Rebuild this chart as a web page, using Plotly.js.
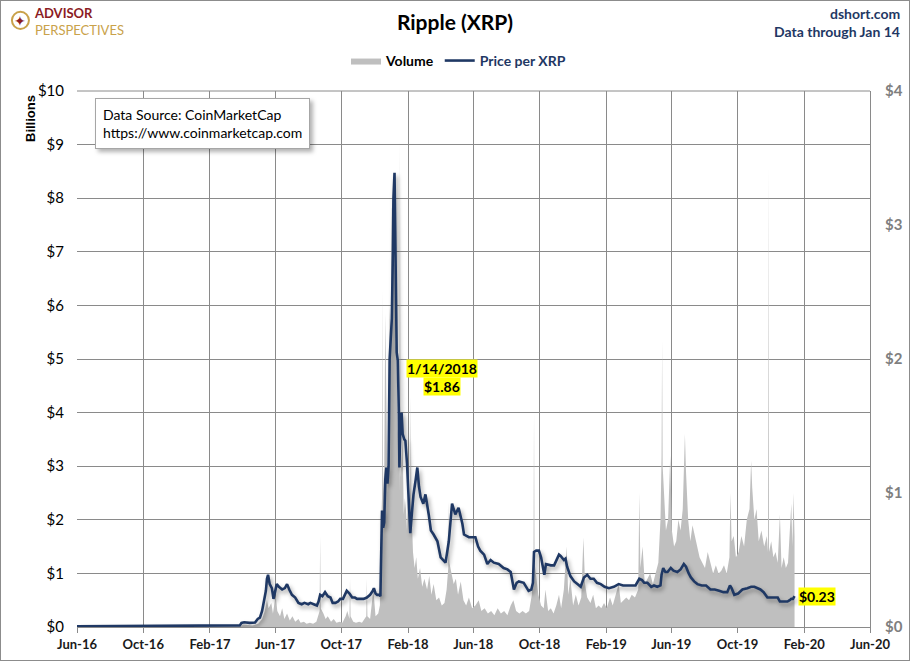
<!DOCTYPE html>
<html>
<head>
<meta charset="utf-8">
<script src="https://cdn.plot.ly/plotly-3.0.1.min.js"></script>
<style>
html,body{margin:0;padding:0;background:#fff;}
#wrap{width:910px;height:661px;box-sizing:border-box;border:1px solid #8c8c8c;overflow:hidden;}
#chart{width:908px;height:659px;}
</style>
</head>
<body>
<div id="wrap"><div id="chart"></div></div>
<script>
// ---- Data ----
const priceDates = ["2016-06-01","2016-07-01","2016-08-01","2016-09-01","2016-10-01","2016-11-01","2016-12-01","2017-01-01","2017-02-01","2017-03-01","2017-03-20","2017-03-28","2017-03-31","2017-04-05","2017-04-15","2017-04-25","2017-04-30","2017-05-04","2017-05-08","2017-05-12","2017-05-15","2017-05-17","2017-05-19","2017-05-22","2017-05-26","2017-05-29","2017-06-01","2017-06-04","2017-06-08","2017-06-14","2017-06-19","2017-06-23","2017-06-27","2017-07-02","2017-07-08","2017-07-14","2017-07-20","2017-07-25","2017-08-01","2017-08-05","2017-08-11","2017-08-17","2017-08-20","2017-08-23","2017-08-27","2017-09-01","2017-09-06","2017-09-11","2017-09-15","2017-09-20","2017-09-25","2017-09-29","2017-10-04","2017-10-08","2017-10-11","2017-10-16","2017-10-21","2017-10-26","2017-10-30","2017-11-05","2017-11-11","2017-11-17","2017-11-23","2017-11-28","2017-11-30","2017-12-03","2017-12-06","2017-12-10","2017-12-12","2017-12-13","2017-12-14","2017-12-15","2017-12-17","2017-12-19","2017-12-21","2017-12-23","2017-12-25","2017-12-27","2017-12-29","2017-12-31","2018-01-02","2018-01-04","2018-01-05","2018-01-07","2018-01-08","2018-01-10","2018-01-11","2018-01-13","2018-01-14","2018-01-15","2018-01-16","2018-01-18","2018-01-20","2018-01-22","2018-01-25","2018-01-27","2018-01-30","2018-02-02","2018-02-05","2018-02-08","2018-02-11","2018-02-15","2018-02-18","2018-02-21","2018-02-24","2018-03-01","2018-03-05","2018-03-11","2018-03-15","2018-03-20","2018-03-27","2018-04-02","2018-04-06","2018-04-11","2018-04-17","2018-04-23","2018-04-29","2018-05-05","2018-05-12","2018-05-15","2018-05-24","2018-06-05","2018-06-10","2018-06-14","2018-06-21","2018-06-27","2018-07-03","2018-07-09","2018-07-18","2018-07-27","2018-08-03","2018-08-09","2018-08-15","2018-08-20","2018-08-24","2018-09-02","2018-09-11","2018-09-16","2018-09-19","2018-09-21","2018-09-25","2018-09-30","2018-10-04","2018-10-10","2018-10-13","2018-10-22","2018-10-28","2018-11-06","2018-11-09","2018-11-15","2018-11-18","2018-11-21","2018-11-27","2018-12-04","2018-12-10","2018-12-16","2018-12-22","2018-12-28","2019-01-03","2019-01-09","2019-01-15","2019-01-22","2019-01-29","2019-02-06","2019-02-15","2019-02-24","2019-03-04","2019-03-12","2019-03-20","2019-03-27","2019-04-03","2019-04-08","2019-04-12","2019-04-18","2019-04-25","2019-04-30","2019-05-06","2019-05-12","2019-05-14","2019-05-17","2019-05-21","2019-05-25","2019-05-31","2019-06-05","2019-06-12","2019-06-18","2019-06-24","2019-06-28","2019-07-03","2019-07-07","2019-07-13","2019-07-19","2019-07-27","2019-08-04","2019-08-12","2019-08-20","2019-08-28","2019-09-05","2019-09-12","2019-09-17","2019-09-20","2019-09-25","2019-10-02","2019-10-10","2019-10-19","2019-10-26","2019-11-01","2019-11-07","2019-11-12","2019-11-18","2019-11-25","2019-12-02","2019-12-08","2019-12-14","2019-12-18","2019-12-22","2019-12-28","2020-01-01","2020-01-05","2020-01-08","2020-01-11","2020-01-14"];
const priceValues = [0.006,0.0065,0.0062,0.0068,0.009,0.0085,0.0078,0.0065,0.007,0.0075,0.009,0.012,0.03,0.035,0.031,0.033,0.06,0.07,0.12,0.2,0.27,0.36,0.39,0.32,0.29,0.21,0.27,0.32,0.30,0.28,0.29,0.32,0.28,0.24,0.22,0.18,0.17,0.18,0.17,0.18,0.17,0.16,0.19,0.24,0.23,0.26,0.23,0.22,0.18,0.18,0.19,0.21,0.21,0.24,0.27,0.25,0.22,0.22,0.21,0.21,0.21,0.22,0.24,0.27,0.29,0.25,0.24,0.24,0.23,0.46,0.84,0.87,0.74,0.78,1.10,1.19,1.07,1.20,2.00,2.20,2.30,2.80,3.20,3.39,3.00,2.30,2.05,1.99,1.86,1.60,1.19,1.55,1.60,1.44,1.40,1.39,1.22,0.90,0.70,0.85,0.99,1.10,1.19,1.05,0.97,0.92,0.99,0.84,0.72,0.69,0.64,0.52,0.50,0.48,0.64,0.92,0.84,0.89,0.77,0.69,0.67,0.67,0.60,0.57,0.54,0.47,0.50,0.48,0.47,0.44,0.43,0.41,0.28,0.33,0.34,0.33,0.27,0.28,0.33,0.56,0.57,0.57,0.52,0.39,0.47,0.46,0.46,0.54,0.53,0.50,0.51,0.45,0.38,0.34,0.32,0.30,0.37,0.39,0.36,0.36,0.33,0.32,0.30,0.29,0.30,0.32,0.31,0.31,0.31,0.31,0.36,0.35,0.33,0.33,0.30,0.31,0.30,0.31,0.39,0.44,0.41,0.41,0.44,0.42,0.41,0.43,0.47,0.45,0.40,0.37,0.34,0.32,0.31,0.31,0.28,0.28,0.27,0.26,0.26,0.31,0.29,0.24,0.25,0.28,0.29,0.30,0.30,0.29,0.28,0.26,0.22,0.22,0.22,0.22,0.19,0.19,0.19,0.19,0.20,0.21,0.21,0.23];

const volDates = ["2016-06-01","2016-09-01","2016-12-01","2017-03-01","2017-03-30","2017-04-02","2017-04-20","2017-05-01","2017-05-08","2017-05-13","2017-05-17","2017-05-20","2017-05-25","2017-05-28","2017-06-02","2017-06-05","2017-06-10","2017-06-14","2017-06-18","2017-06-23","2017-06-28","2017-07-03","2017-07-08","2017-07-14","2017-07-18","2017-07-24","2017-07-29","2017-08-04","2017-08-10","2017-08-16","2017-08-22","2017-08-23","2017-08-24","2017-08-29","2017-09-02","2017-09-06","2017-09-12","2017-09-17","2017-09-22","2017-09-28","2017-10-03","2017-10-09","2017-10-12","2017-10-16","2017-10-17","2017-10-18","2017-10-23","2017-10-28","2017-11-03","2017-11-08","2017-11-13","2017-11-16","2017-11-17","2017-11-18","2017-11-23","2017-11-29","2017-12-03","2017-12-08","2017-12-11","2017-12-13","2017-12-14","2017-12-15","2017-12-16","2017-12-17","2017-12-19","2017-12-21","2017-12-23","2017-12-25","2017-12-27","2017-12-29","2017-12-31","2018-01-02","2018-01-04","2018-01-05","2018-01-07","2018-01-09","2018-01-11","2018-01-13","2018-01-15","2018-01-16","2018-01-17","2018-01-18","2018-01-20","2018-01-22","2018-01-24","2018-01-26","2018-01-28","2018-01-30","2018-02-01","2018-02-03","2018-02-05","2018-02-06","2018-02-07","2018-02-10","2018-02-13","2018-02-16","2018-02-19","2018-02-23","2018-02-27","2018-03-03","2018-03-08","2018-03-12","2018-03-16","2018-03-20","2018-03-25","2018-03-30","2018-04-04","2018-04-09","2018-04-13","2018-04-16","2018-04-17","2018-04-18","2018-04-22","2018-04-26","2018-04-30","2018-05-04","2018-05-09","2018-05-14","2018-05-19","2018-05-24","2018-05-30","2018-06-05","2018-06-11","2018-06-16","2018-06-22","2018-06-28","2018-07-04","2018-07-10","2018-07-16","2018-07-22","2018-07-28","2018-08-03","2018-08-09","2018-08-14","2018-08-19","2018-08-25","2018-08-31","2018-09-06","2018-09-12","2018-09-17","2018-09-20","2018-09-21","2018-09-22","2018-09-25","2018-09-29","2018-10-04","2018-10-09","2018-10-12","2018-10-17","2018-10-22","2018-10-27","2018-11-01","2018-11-06","2018-11-10","2018-11-15","2018-11-20","2018-11-23","2018-11-27","2018-12-02","2018-12-07","2018-12-12","2018-12-17","2018-12-21","2018-12-24","2018-12-28","2019-01-03","2019-01-08","2019-01-13","2019-01-18","2019-01-23","2019-01-28","2019-02-02","2019-02-08","2019-02-13","2019-02-18","2019-02-24","2019-02-28","2019-03-05","2019-03-10","2019-03-15","2019-03-20","2019-03-26","2019-04-01","2019-04-03","2019-04-05","2019-04-09","2019-04-13","2019-04-18","2019-04-23","2019-04-28","2019-05-03","2019-05-08","2019-05-12","2019-05-14","2019-05-15","2019-05-16","2019-05-19","2019-05-22","2019-05-26","2019-05-30","2019-06-02","2019-06-06","2019-06-10","2019-06-14","2019-06-18","2019-06-22","2019-06-26","2019-06-28","2019-07-02","2019-07-06","2019-07-10","2019-07-14","2019-07-18","2019-07-23","2019-07-28","2019-08-02","2019-08-07","2019-08-12","2019-08-17","2019-08-22","2019-08-27","2019-09-01","2019-09-06","2019-09-11","2019-09-16","2019-09-18","2019-09-20","2019-09-24","2019-09-28","2019-10-03","2019-10-08","2019-10-13","2019-10-18","2019-10-23","2019-10-26","2019-10-28","2019-11-01","2019-11-05","2019-11-09","2019-11-14","2019-11-19","2019-11-24","2019-11-26","2019-11-27","2019-11-28","2019-12-02","2019-12-06","2019-12-10","2019-12-14","2019-12-18","2019-12-21","2019-12-25","2019-12-29","2020-01-02","2020-01-06","2020-01-08","2020-01-10","2020-01-12","2020-01-14"];
const volValues = [0.001,0.002,0.002,0.003,0.01,0.05,0.03,0.06,0.15,0.30,0.50,0.35,0.45,0.25,0.60,0.30,0.20,0.35,0.15,0.25,0.12,0.20,0.10,0.15,0.08,0.10,0.06,0.08,0.06,0.10,0.30,1.70,0.35,0.25,0.15,0.20,0.10,0.15,0.08,0.10,0.08,0.20,0.30,0.15,0.90,0.20,0.10,0.08,0.10,0.08,0.15,0.20,0.90,0.20,0.15,0.70,0.20,0.25,0.40,1.50,2.40,1.80,6.30,2.50,2.90,5.85,3.50,2.50,3.80,6.00,5.20,7.80,8.00,6.80,7.20,5.30,5.00,3.60,4.10,2.50,9.10,2.80,3.20,3.50,2.10,2.40,2.20,1.80,2.70,2.00,2.60,4.30,2.30,1.40,1.10,1.30,0.90,1.10,0.75,0.90,0.70,0.95,0.60,0.80,0.50,0.55,0.40,0.45,0.70,1.10,2.35,1.20,1.00,0.80,0.90,0.60,0.85,0.50,0.40,0.55,0.35,0.40,0.50,0.30,0.35,0.25,0.30,0.22,0.35,0.25,0.30,0.22,0.40,0.50,0.30,0.25,0.30,0.25,0.30,0.60,1.30,4.00,1.20,0.90,0.60,0.40,0.35,0.70,0.30,0.35,0.25,0.40,0.60,0.35,0.70,1.50,0.60,0.90,0.40,0.60,0.40,0.55,1.67,0.80,0.55,0.45,0.60,0.35,0.40,0.35,0.45,0.35,0.55,0.40,0.60,0.80,0.45,0.50,0.55,0.50,0.60,0.55,0.70,2.50,1.10,1.50,0.80,0.90,1.00,0.80,1.00,1.20,2.00,3.20,5.35,3.00,2.40,1.80,2.00,3.20,1.80,1.50,1.60,2.00,1.80,2.20,3.60,2.90,2.00,1.60,1.90,1.70,1.50,1.30,1.20,1.10,1.40,1.20,1.00,1.15,1.00,1.05,1.15,1.00,1.30,2.50,1.60,1.70,1.30,1.40,1.70,1.50,2.00,2.20,3.10,2.60,2.00,2.20,1.60,1.80,1.50,1.70,1.40,8.60,1.40,1.60,1.30,1.40,1.20,2.10,1.10,1.30,1.10,1.20,1.80,2.30,1.50,2.50,1.70];

const leftTicks = [0,1,2,3,4,5,6,7,8,9,10];
const rightTicks = [0,1,2,3,4];
const xRange = ["2016-06-01","2020-06-01"];

const FONT = "Lato, Open Sans, sans-serif";
const NAVY = "#1f3864";
const GRID = "#8a8a8a";

// paper-coordinate helpers (plot area 792 x 535 starting at page 77,91)
const px = X => (X - 77) / 792;
const py = Y => (626 - Y) / 535;

const volumeTrace = {
  x: volDates, y: volValues, type: "scatter", mode: "lines",
  name: "Volume", fill: "tozeroy", fillcolor: "#bfbfbf",
  line: {width: 0, color: "#bfbfbf"}, yaxis: "y", hoverinfo: "skip"
};
const priceTrace = {
  x: priceDates, y: priceValues, type: "scatter", mode: "lines",
  name: '<span style="color:' + NAVY + '">Price per XRP</span>',
  line: {width: 2.6, color: NAVY}, yaxis: "y2"
};

const layout = {
  width: 908, height: 659,
  margin: {l: 76, r: 39, t: 90, b: 33},
  paper_bgcolor: "#ffffff", plot_bgcolor: "#ffffff",
  font: {family: FONT, size: 13, color: "#000"},
  title: {text: "<b>Ripple (XRP)</b>", font: {family: FONT, size: 21, color: "#000"},
          x: 0.5, xanchor: "center", xref: "container", y: 1 - 22/659, yanchor: "middle", yref: "container"},
  showlegend: true,
  legend: {orientation: "h", x: px(458), xanchor: "center", y: py(61), yanchor: "middle",
           font: {family: FONT, size: 14, color: "#000", weight: "bold"}, itemwidth: 30, tracegroupgap: 0,
           bgcolor: "rgba(0,0,0,0)"},
  xaxis: {type: "date", range: xRange, tick0: "2016-06-01", dtick: "M4", tickformat: "%b-%y",
          showgrid: true, gridcolor: GRID, gridwidth: 1, showline: true, linecolor: GRID, linewidth: 1,
          mirror: false, ticks: "outside", ticklen: 5, tickcolor: GRID,
          tickfont: {family: FONT, size: 13, color: "#1a1a1a", weight: "bold"}, zeroline: false, fixedrange: true},
  yaxis: {range: [0, 10], tickvals: leftTicks, ticktext: leftTicks.map(v => "$" + v),
          showgrid: true, gridcolor: GRID, gridwidth: 1, zeroline: false, showline: false,
          ticks: "", ticklabelstandoff: 12,
          tickfont: {family: FONT, size: 15, color: "#000"}, fixedrange: true},
  yaxis2: {range: [0, 4], overlaying: "y", side: "right", tickvals: rightTicks, ticktext: rightTicks.map(v => "$" + v),
           showgrid: false, zeroline: false, showline: true, linecolor: GRID, ticks: "", ticklabelstandoff: 11,
           tickfont: {family: FONT, size: 15, color: "#7f7f7f", weight: "bold"}, fixedrange: true},
  shapes: [
    {type: "line", xref: "paper", yref: "paper", x0: 0, x1: 1, y0: 1, y1: 1, line: {color: GRID, width: 1}, layer: "below"},
    {type: "circle", xref: "paper", yref: "paper", x0: px(12), x1: px(29), y0: py(29), y1: py(12),
     line: {color: "#c9a24a", width: 2}, fillcolor: "rgba(0,0,0,0)"}
  ],
  annotations: [
    {text: "<b>dshort.com</b>", xref: "paper", yref: "paper", x: px(901), y: py(14), xanchor: "right", yanchor: "middle",
     showarrow: false, font: {family: FONT, size: 14, color: NAVY}},
    {text: "<b>Data through Jan 14</b>", xref: "paper", yref: "paper", x: px(901), y: py(32), xanchor: "right", yanchor: "middle",
     showarrow: false, font: {family: FONT, size: 14, color: NAVY}},
    {text: "<b>Billions</b>", xref: "paper", yref: "paper", x: px(30), y: py(118), textangle: -90,
     xanchor: "center", yanchor: "middle", showarrow: false,
     font: {family: "Liberation Sans, Arial, sans-serif", size: 13, color: "#000"}},
    {text: '<b><span style="color:#8b1c24">ADVISOR</span></b><br><span style="color:#c9a24a">PERSPECTIVES</span>',
     xref: "paper", yref: "paper", x: px(32), y: py(22), xanchor: "left", yanchor: "middle", align: "left",
     showarrow: false, font: {family: FONT, size: 13, color: "#8b1c24"}},
    {text: "✦", xref: "paper", yref: "paper", x: px(20.5), y: py(21), xanchor: "center", yanchor: "middle",
     showarrow: false, font: {family: "DejaVu Sans, sans-serif", size: 14, color: "#8b1c24"}},
    {text: "Data Source: CoinMarketCap<br>https://www.coinmarketcap.com", xref: "paper", yref: "paper",
     x: px(95), y: py(98), xanchor: "left", yanchor: "top", align: "left", showarrow: false,
     bgcolor: "#ffffff", bordercolor: "#a6a6a6", borderwidth: 1, borderpad: 7,
     font: {family: FONT, size: 14, color: "#000"}},
    {text: "<b>1/14/2018</b>", xref: "x", yref: "y2", x: priceDates[88], y: priceValues[88],
     xshift: 44, yshift: 9, showarrow: false, bgcolor: "#ffff00", borderpad: 0,
     font: {family: FONT, size: 14, color: "#000"}},
    {text: "<b>$" + priceValues[88].toFixed(2) + "</b>", xref: "x", yref: "y2", x: priceDates[88], y: priceValues[88],
     xshift: 44, yshift: -9, showarrow: false, bgcolor: "#ffff00", borderpad: 0,
     font: {family: FONT, size: 14, color: "#000"}},
    {text: "<b>$" + priceValues[priceValues.length-1].toFixed(2) + "</b>", xref: "x", yref: "y2",
     x: priceDates[priceDates.length-1], y: priceValues[priceValues.length-1],
     xanchor: "left", xshift: 3, showarrow: false, bgcolor: "#ffff00", borderpad: 0,
     font: {family: FONT, size: 14, color: "#000"}}
  ]
};

Plotly.newPlot("chart", [volumeTrace, priceTrace], layout, {displayModeBar: false, staticPlot: true}).then(gd => {
  const traces = gd.querySelectorAll(".scatterlayer .trace");
  if (traces.length > 1) {
    const p = traces[1].querySelector("path.js-line");
    if (p) p.style.filter = "drop-shadow(2px 3px 2px rgba(0,0,0,0.35))";
  }
  const ann = gd.querySelectorAll(".annotation");
  ann.forEach(a => {
    if (a.textContent.indexOf("Data Source") >= 0) {
      const bg = a.querySelector("rect.bg");
      if (bg) bg.style.filter = "drop-shadow(3px 3px 2px rgba(0,0,0,0.3))";
    }
  });
});
</script>
</body>
</html>
